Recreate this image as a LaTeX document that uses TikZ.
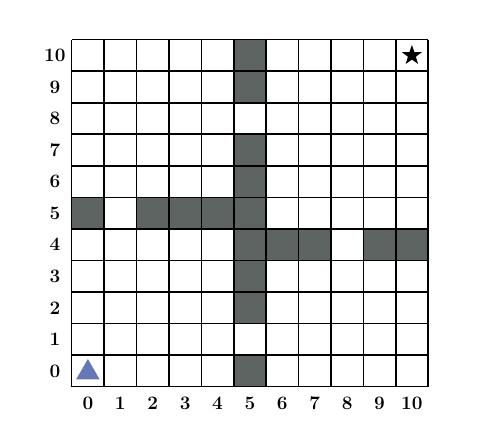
\documentclass[tikz,border=0pt]{standalone}
\usepackage{fontspec}
\usetikzlibrary{shapes.geometric}
\definecolor{wallgray}{HTML}{5E6462}
\definecolor{startblue}{HTML}{6677B5}
\tikzset{
  wall/.style={fill=wallgray},
  gridline/.style={line width=1.6pt,black},
  lbl/.style={font=\fontsize{19}{22}\selectfont\bfseries,inner sep=0pt}
}
\begin{document}
\begin{tikzpicture}[x=32.4pt,y=31.55pt]
    \useasboundingbox (-71.7pt,-52.3pt) rectangle ++(493pt,439pt);
    % blocked cells
    \foreach \c/\r in {5/10,5/9,5/7,5/6,5/5,5/4,5/3,5/2,5/0,
                       0/5,2/5,3/5,4/5,6/4,7/4,9/4,10/4}
      \fill[wall] (\c,\r) rectangle ++(1,1);
    \draw[gridline,xstep=1,ystep=1] (0,0) grid (11,11);
    % axis numbers
    \foreach \i in {0,...,10} {
      \node[lbl] (col\i) at (\i+0.5,-0.52) {\i};
      \node[lbl] (row\i) at (-0.52,\i+0.5) {\i};
    }
    \node[star,star points=5,star point ratio=2.5,fill=black,
          minimum size=21pt,inner sep=0pt] (goal) at (10.5,10.5) {};
    \node[regular polygon,regular polygon sides=3,fill=startblue,
          minimum size=27pt,inner sep=0pt] (start) at (0.5,0.45) {};
\end{tikzpicture}
\end{document}
